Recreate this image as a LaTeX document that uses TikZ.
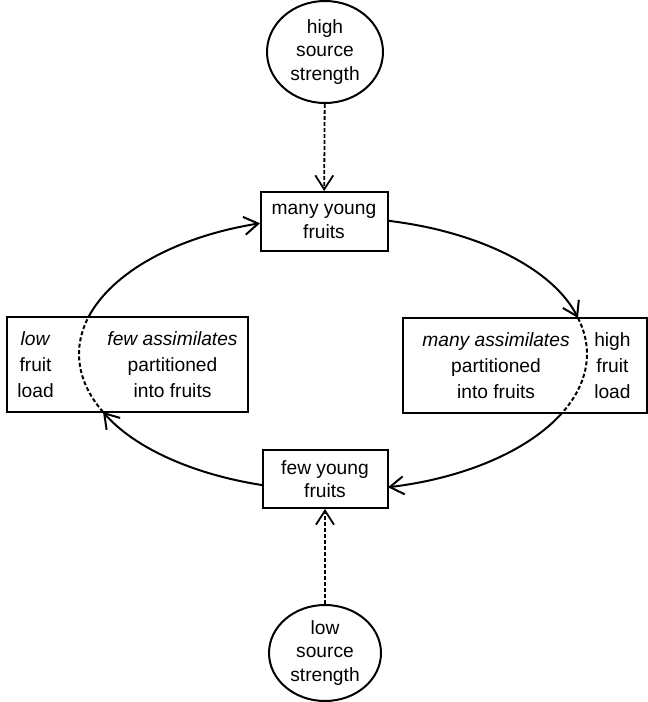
\documentclass[tikz,border=0pt]{standalone}
\usepackage{fontspec}
\setmainfont{Liberation Sans}
\usetikzlibrary{arrows.meta,calc,positioning,shapes.geometric}

\tikzset{
  box/.style={draw, line width=1pt, inner sep=0pt},
  src/.style={draw, ellipse, line width=1pt, inner sep=0pt, align=center,
    font=\fontsize{9.6}{11.7}\selectfont},
  lbl/.style={align=center, inner sep=0pt, font=\fontsize{9.6}{11.7}\selectfont},
  col/.style={align=center, inner sep=0pt, font=\fontsize{9.6}{13}\selectfont},
  cyc/.style={line width=1pt, -{Straight Barb[length=7pt,width=9pt]}},
  inside/.style={line width=1pt, dash pattern=on 2pt off 1.2pt},
  feed/.style={line width=0.9pt, dash pattern=on 2pt off 1pt,
    -{Straight Barb[length=7pt,width=9pt]}},
}

\begin{document}
\begin{tikzpicture}[x=0.5pt, y=-0.5pt]
\useasboundingbox (0,0) rectangle (648,702);

% sources
\node[src, minimum width=58pt, minimum height=51pt] (hisrc) at (325,52) {high\\source\\strength};
\node[src, minimum width=56pt, minimum height=48pt] (losrc) at (325,653) {low\\source\\strength};

% fruit number
\node[box, lbl, minimum width=63.5pt, minimum height=29.5pt] (many) at (324,221.5) {many young\\fruits};
\node[box, lbl, minimum width=62.5pt, minimum height=29pt] (few) at (325,479) {few young\\fruits};

% fruit load
\node[box, minimum width=120.5pt, minimum height=47.5pt] (lbox) at (127.5,364.5) {};
\node[col, right=5.5pt of lbox.west] (lowload) {\textit{low}\\fruit\\load};
\node[col, left=5.5pt of lbox.east] (fewass) {\textit{few assimilates}\\partitioned\\into fruits};

\node[box, minimum width=122pt, minimum height=47.5pt] (rbox) at (525,365.5) {};
\node[col, right=10pt of rbox.west] (manyass) {\textit{many assimilates}\\partitioned\\into fruits};
\node[col, left=8.5pt of rbox.east] (highload) {high\\fruit\\load};

% cycle
\coordinate (O) at (333,354);
\foreach \a/\b in {77.7/15.3, -25.6/-77.5, 254/205.1, 164.3/106.7}
  \draw[cyc] ($(O)+(\a:127pt and 68.25pt)$) arc[start angle=\a, end angle=\b, x radius=127pt, y radius=68.25pt];
\foreach \a/\b in {15.3/-25.6, 205.1/164.3}
  \draw[inside] ($(O)+(\a:127pt and 68.25pt)$) arc[start angle=\a, end angle=\b, x radius=127pt, y radius=68.25pt];

% source strength
\draw[feed] (hisrc) -- (many);
\draw[feed] (losrc) -- (few);

\end{tikzpicture}
\end{document}
